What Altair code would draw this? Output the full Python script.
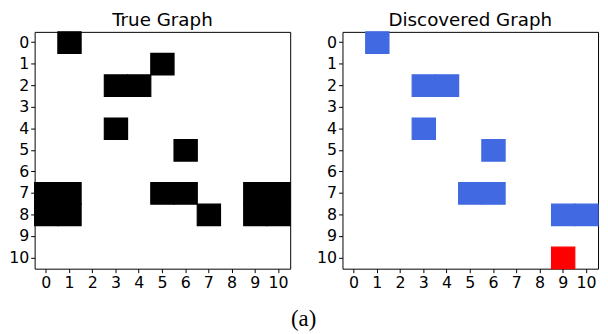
import altair as alt
import pandas as pd

# True graph adjacency (row, col) of black cells
true_rows = [0, 1, 2, 2, 4, 5, 7, 7, 7, 7, 7, 7, 8, 8, 8, 8, 8]
true_cols = [1, 5, 3, 4, 3, 6, 0, 1, 5, 6, 9, 10, 0, 1, 7, 9, 10]

# Discovered graph cells and whether each is correct (tp) or spurious (fp)
disc_rows = [0, 2, 2, 4, 5, 7, 7, 8, 8, 10]
disc_cols = [1, 3, 4, 3, 6, 5, 6, 9, 10, 9]
disc_kind = ["tp", "tp", "tp", "tp", "tp", "tp", "tp", "tp", "tp", "fp"]

nodes = list(range(11))

true_df = pd.DataFrame({"row": true_rows, "col": true_cols})
disc_df = pd.DataFrame({"row": disc_rows, "col": disc_cols, "kind": disc_kind})

W, H = 259, 240

def xenc():
    return alt.X("col:O", scale=alt.Scale(domain=nodes, paddingInner=0, paddingOuter=0),
                 axis=alt.Axis(title=None, labelAngle=0))

def yenc():
    return alt.Y("row:O", scale=alt.Scale(domain=nodes, paddingInner=0, paddingOuter=0),
                 axis=alt.Axis(title=None))

left = alt.Chart(true_df).mark_rect(color="black", stroke="black", strokeWidth=1.2).encode(
    x=xenc(), y=yenc()
).properties(width=W, height=H, title="True Graph")

cscale = alt.Scale(domain=["tp", "fp"], range=["#4169E1", "#FF0000"])
right = alt.Chart(disc_df).mark_rect(strokeWidth=1.2).encode(
    x=xenc(), y=yenc(),
    color=alt.Color("kind:N", scale=cscale, legend=None),
    stroke=alt.Stroke("kind:N", scale=cscale, legend=None)
).properties(width=W, height=H, title="Discovered Graph")

chart = alt.hconcat(left, right, spacing=24).properties(
    padding=0,
    title=alt.TitleParams("(a)", orient="bottom", font="Liberation Serif", fontSize=23,
                          fontWeight="normal", color="black", anchor="middle", offset=18)
).configure_view(
    stroke="black", strokeWidth=1
).configure_axis(
    domain=False, grid=False, ticks=True, tickColor="black", tickSize=4, tickWidth=1,
    labelFont="DejaVu Sans", labelFontSize=16, labelColor="black", labelPadding=2
).configure_title(
    font="DejaVu Sans", fontSize=18.5, fontWeight="normal", color="black", offset=2
)

chart.save("out.html", embed_options={"renderer": "svg", "actions": False})
